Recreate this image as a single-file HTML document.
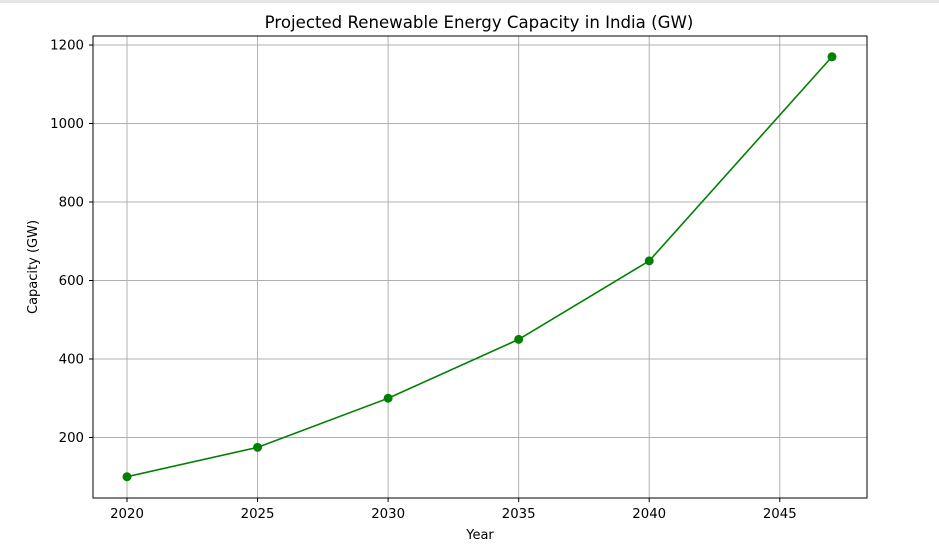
<!DOCTYPE html>
<html><head><meta charset="utf-8"><style>
html,body{margin:0;padding:0;background:#fff;}
svg{display:block;font-family:"DejaVu Sans","Liberation Sans",sans-serif;}
</style></head><body>
<svg id="chart" width="939" height="548" viewBox="0 0 939 548" xmlns="http://www.w3.org/2000/svg">
<rect x="0" y="0" width="939" height="3" fill="#e6e6e6"/>
<text x="479" y="28" text-anchor="middle" font-size="16.6" fill="#000">Projected Renewable Energy Capacity in India (GW)</text>
<g id="grid"></g>
<g id="xticks"></g>
<g id="yticks"></g>
<g id="series"></g>
<rect x="93" y="36" width="774" height="462" fill="none" stroke="#000" stroke-width="1"/>
<text x="480" y="539" text-anchor="middle" font-size="13">Year</text>
<text transform="translate(37,267) rotate(-90)" text-anchor="middle" font-size="13">Capacity (GW)</text>
</svg>
<script>
const years = [2020, 2025, 2030, 2035, 2040, 2047];
const capacity = [100, 175, 300, 450, 650, 1170];
const xTickLabels = [2020, 2025, 2030, 2035, 2040, 2045];
const yTickLabels = [200, 400, 600, 800, 1000, 1200];

const NS = "http://www.w3.org/2000/svg";
function xs(v){ return 127 + (v - 2020) * (705 / 27); }
function ys(v){ return 437.5 - (v - 200) * 0.3925; }
function mk(tag, attrs, parent){
  const e = document.createElementNS(NS, tag);
  for (const k in attrs) e.setAttribute(k, attrs[k]);
  parent.appendChild(e);
  return e;
}
const grid = document.getElementById('grid');
const xt = document.getElementById('xticks');
const yt = document.getElementById('yticks');
const ser = document.getElementById('series');

xTickLabels.forEach(t => {
  const x = xs(t);
  const g = mk('line', {x1:x, x2:x, y1:36, y2:498, stroke:'#b0b0b0', 'stroke-width':1}, grid);
  
  
  const tk = mk('line', {x1:x, x2:x, y1:498, y2:502, stroke:'#000'}, xt);
  
  
  const lb = mk('text', {x:x, y:518, 'text-anchor':'middle', 'font-size':13.3}, xt);
  lb.textContent = t;
  
  
});
yTickLabels.forEach(t => {
  const y = ys(t);
  const g = mk('line', {x1:93, x2:867, y1:y, y2:y, stroke:'#b0b0b0', 'stroke-width':1}, grid);
  
  
  const tk = mk('line', {x1:89, x2:93, y1:y, y2:y, stroke:'#000'}, yt);
  
  
  const lb = mk('text', {x:84, y:y+4.5, 'text-anchor':'end', 'font-size':13.3}, yt);
  lb.textContent = t;
  
  
});
const pts = years.map((y,i) => xs(y) + ',' + ys(capacity[i])).join(' ');
const line = mk('polyline', {points:pts, fill:'none', stroke:'#008000', 'stroke-width':1.6}, ser);


years.forEach((y,i) => {
  const c = mk('circle', {cx:xs(y), cy:ys(capacity[i]), r:4.5, fill:'#008000'}, ser);
  
  
});
</script>
</body></html>
